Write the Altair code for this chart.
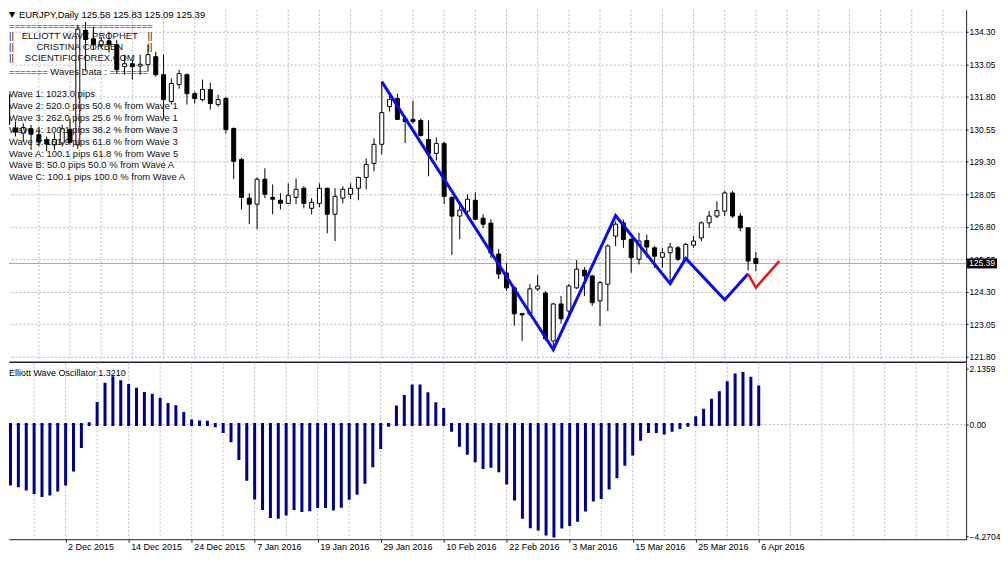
import json
import altair as alt
import pandas as pd

# ---------------- data ----------------
# bar index 0 = 20 Nov 2015 ... 96 = 6 Apr 2016 (daily trading bars)
opens = [131.88, 130.59, 130.40, 130.57, 130.34, 130.15, 129.95, 130.02, 130.55, 129.95,
         134.35, 134.03, 133.78, 133.95, 133.80, 132.96, 133.07, 132.98, 133.03, 133.34,
         132.65, 131.62, 132.27, 132.65, 131.92, 131.69, 132.08, 131.50, 131.73, 130.58,
         129.39, 127.90, 127.67, 128.63, 127.93, 127.82, 127.70, 127.93, 128.28, 127.51,
         127.70, 128.28, 127.28, 127.90, 128.05, 128.28, 128.70, 129.24, 129.97, 131.42,
         131.73, 130.96, 130.93, 130.89, 130.16, 129.62, 130.00, 127.93, 127.21, 127.40,
         127.82, 127.13, 126.94, 125.75, 125.02, 124.45, 123.46, 123.45, 124.41, 124.25,
         122.41, 123.83, 123.56, 124.45, 125.13, 124.91, 123.95, 124.59, 126.44, 126.95,
         126.31, 125.55, 126.27, 125.99, 125.63, 125.80, 125.99, 125.55, 126.09, 126.37,
         126.95, 127.21, 127.40, 128.10, 127.21, 126.76, 125.58]
highs = [132.00, 130.85, 130.78, 130.72, 130.53, 130.27, 130.40, 130.72, 130.95, 134.55,
         134.68, 134.49, 134.10, 134.30, 133.99, 133.42, 133.23, 133.42, 133.80, 133.53,
         133.42, 132.50, 132.84, 132.69, 132.00, 132.46, 132.34, 131.88, 131.80, 130.62,
         129.45, 128.09, 128.70, 129.05, 128.43, 128.09, 128.47, 128.66, 128.36, 127.90,
         128.47, 128.30, 128.28, 128.36, 128.47, 128.72, 129.43, 130.20, 132.38, 132.00,
         131.92, 130.98, 131.65, 130.96, 130.89, 130.23, 130.08, 127.97, 127.59, 128.05,
         128.13, 127.28, 127.09, 125.94, 125.40, 124.52, 123.49, 124.60, 124.94, 124.33,
         123.87, 124.14, 124.60, 125.52, 125.25, 124.95, 124.71, 126.13, 127.01, 127.08,
         126.37, 126.57, 126.50, 126.06, 125.99, 126.18, 126.06, 126.18, 126.44, 127.01,
         127.40, 127.78, 128.17, 128.17, 127.33, 126.76, 125.83]
lows = [130.60, 130.27, 130.08, 129.76, 129.89, 129.70, 129.76, 129.89, 129.95, 129.80,
        132.77, 133.61, 133.65, 133.50, 132.69, 132.65, 132.46, 132.65, 132.77, 132.57,
        130.96, 131.50, 132.11, 131.50, 131.54, 131.62, 131.31, 131.42, 130.39, 128.63,
        127.47, 126.90, 126.71, 127.90, 127.28, 127.47, 127.67, 127.67, 127.51, 127.28,
        127.55, 126.55, 126.25, 127.70, 127.86, 127.82, 128.24, 128.93, 129.58, 131.23,
        130.90, 130.02, 130.77, 130.27, 128.74, 129.35, 127.67, 125.71, 126.32, 127.28,
        127.05, 126.75, 125.60, 124.79, 124.33, 122.99, 122.41, 123.37, 124.33, 122.41,
        122.07, 123.07, 123.30, 124.41, 124.14, 123.76, 122.99, 123.56, 126.06, 125.99,
        125.03, 125.35, 125.61, 125.22, 125.22, 124.65, 125.48, 125.48, 125.99, 126.25,
        126.76, 127.14, 127.21, 127.14, 126.63, 125.12, 125.09]
closes = [130.73, 130.44, 130.62, 130.36, 130.06, 129.98, 130.15, 130.57, 130.05, 134.40,
          134.00, 133.80, 133.95, 133.80, 132.84, 133.07, 132.96, 133.05, 133.42, 132.65,
          131.69, 132.31, 132.69, 131.92, 131.73, 132.08, 131.54, 131.69, 130.54, 129.32,
          127.93, 127.67, 128.63, 128.05, 127.86, 127.70, 128.01, 128.24, 127.70, 127.74,
          128.28, 127.28, 127.97, 128.24, 128.28, 128.70, 129.20, 129.97, 131.19, 131.69,
          130.93, 130.85, 130.85, 130.31, 129.62, 130.00, 127.97, 127.21, 127.44, 127.86,
          127.09, 126.90, 125.79, 124.98, 124.45, 123.45, 123.41, 124.41, 124.52, 122.49,
          123.83, 123.26, 124.52, 125.17, 124.91, 123.88, 124.65, 126.06, 126.90, 126.31,
          125.61, 126.25, 126.02, 125.67, 125.80, 126.02, 125.55, 126.12, 126.25, 126.95,
          127.21, 127.42, 128.10, 127.21, 126.76, 125.48, 125.39]

osc_values = [-2.28, -2.28, -2.34, -2.47, -2.60, -2.72, -2.66, -2.51, -2.28, -1.74,
              -0.84, 0.03, 0.81, 1.54, 1.79, 1.64, 1.50, 1.35, 1.19, 1.12,
              0.97, 0.77, 0.68, 0.42, 0.14, 0.10, 0.09, -0.05, -0.27, -0.62,
              -1.30, -2.09, -2.81, -3.21, -3.52, -3.55, -3.42, -3.21, -3.29, -3.26,
              -3.14, -3.14, -3.23, -3.13, -2.82, -2.63, -2.21, -1.58, -0.88, -0.03,
              0.67, 1.07, 1.48, 1.48, 1.18, 0.80, 0.58, -0.22, -0.79, -1.10,
              -1.39, -1.64, -1.60, -1.77, -2.24, -2.85, -3.55, -3.91, -4.00, -4.19,
              -4.27, -3.92, -3.83, -3.66, -3.27, -2.89, -2.79, -2.43, -2.00, -1.52,
              -1.13, -0.56, -0.27, -0.27, -0.32, -0.22, -0.11, -0.03, 0.26, 0.55,
              0.93, 1.22, 1.60, 1.90, 1.95, 1.77, 1.44]

wave_idx = [48, 70, 78, 85, 87, 92, 95]
wave_price = [132.38, 122.07, 127.23, 124.61, 125.58, 123.99, 124.99]
red_idx = [95, 96, 99]
red_price = [124.99, 124.46, 125.48]

price_levels = [134.30, 133.05, 131.80, 130.55, 129.30, 128.05, 126.80, 125.55, 124.30, 123.05, 121.80]
osc_levels = [2.1359, 0.0, -4.2704]
tick_idx = [8, 16, 24, 32, 40, 48, 56, 64, 72, 80, 88, 96]
tick_text = ["2 Dec 2015", "14 Dec 2015", "24 Dec 2015", "7 Jan 2016", "19 Jan 2016", "29 Jan 2016",
             "10 Feb 2016", "22 Feb 2016", "3 Mar 2016", "15 Mar 2016", "25 Mar 2016", "6 Apr 2016"]
grid_idx = list(range(4, 124, 4))

header_text = "EURJPY,Daily 125.58 125.83 125.09 125.39"
banner_lines = ["ELLIOTT WAVE PROPHET", "CRISTINA CORBEN", "SCIENTIFICFOREX.COM"]
info_lines = ["Wave 1: 1023.0 pips",
              "Wave 2: 520.0 pips 50.8 % from Wave 1",
              "Wave 3: 262.0 pips 25.6 % from Wave 1",
              "Wave 4: 100.1 pips 38.2 % from Wave 3",
              "Wave 5: 161.9 pips 61.8 % from Wave 3",
              "Wave A: 100.1 pips 61.8 % from Wave 5",
              "Wave B: 50.0 pips 50.0 % from Wave A",
              "Wave C: 100.1 pips 100.0 % from Wave A"]
osc_title = "Elliott Wave Oscillator 1.3210"

# ---------------- styling / layout ----------------
FONT = "Liberation Sans"
GRID = "#B9B9C9"
FRAME = "#1E1E2E"
NAVY = "#00008B"
W, H1, H2 = 960, 353, 177
PX_PER_BAR = 7.9
X0 = 0.81

candles = pd.DataFrame({"idx": list(range(len(opens))), "open": opens, "high": highs,
                        "low": lows, "close": closes})
osc = pd.DataFrame({"idx": list(range(len(osc_values))), "v": osc_values})
waves = pd.DataFrame({"idx": wave_idx, "p": wave_price})
reds = pd.DataFrame({"idx": red_idx, "p": red_price})
grid = pd.DataFrame({"g": grid_idx})
one = pd.DataFrame({"a": [0]})

xs = alt.Scale(domain=[X0, X0 + W / PX_PER_BAR], nice=False, zero=False)
ps = alt.Scale(domain=[121.608, 135.144], nice=False, zero=False)
os_ = alt.Scale(domain=[-4.389, 2.366], nice=False, zero=False)

main_xaxis = alt.Axis(orient="bottom", title=None, labels=False, ticks=False, grid=False,
                      domain=True, domainColor=FRAME, domainWidth=1.5)
main_yaxis = alt.Axis(orient="right", title=None, values=price_levels, format=".2f",
                      grid=True, gridColor=GRID, gridDash=[2, 2], tickSize=2, tickColor=FRAME,
                      domain=True, domainColor=FRAME, labelFont=FONT, labelFontSize=8.5,
                      labelColor="#000", labelPadding=1, labelOverlap=False, labelFlush=False)
label_expr = f"{json.dumps(tick_text)}[indexof({json.dumps(tick_idx)}, datum.value)]"
osc_xaxis = alt.Axis(orient="bottom", title=None, values=tick_idx, labelExpr=label_expr,
                     labelAlign="left", labelOffset=2, labelPadding=0, tickSize=3,
                     tickColor=FRAME, domain=True, domainColor=FRAME, grid=False,
                     labelFont=FONT, labelFontSize=9, labelColor="#000",
                     labelOverlap=False, labelFlush=False)
osc_yaxis = alt.Axis(orient="right", title=None, values=osc_levels,
                     labelExpr="datum.value == 0 ? '0.00' : format(datum.value, '.4f')",
                     grid=False, tickSize=2, tickColor=FRAME, domain=True, domainColor=FRAME,
                     labelFont=FONT, labelFontSize=8.5, labelColor="#000", labelPadding=1,
                     labelOverlap=False, labelFlush=False)


def MX(field):
    return alt.X(field, type="quantitative", scale=xs, axis=main_xaxis)


def MY(field):
    return alt.Y(field, type="quantitative", scale=ps, axis=main_yaxis)


def OX(field):
    return alt.X(field, type="quantitative", scale=xs, axis=osc_xaxis)


def txt(s, x, y, size=9.5, align="left", font=FONT, color="#111"):
    return alt.Chart(one).mark_text(align=align, baseline="middle", font=font,
                                    fontSize=size, color=color).encode(
        x=alt.value(x), y=alt.value(y), text=alt.value(s))


# ---------------- main (price) pane ----------------
vgrid = alt.Chart(grid).mark_rule(color=GRID, strokeDash=[2, 2], strokeWidth=1).encode(x=MX("g"))
last_line = alt.Chart(one).mark_rule(color="#A4A4BC", strokeWidth=1).encode(
    y=alt.Y(datum=closes[-1], type="quantitative", scale=ps, axis=main_yaxis))
wick = alt.Chart(candles).mark_rule(color="#000", strokeWidth=1, clip=True).encode(
    x=MX("idx"), y=MY("low"), y2="high")
body = alt.Chart(candles).mark_bar(width=4, stroke="#000", strokeWidth=1, clip=True).encode(
    x=MX("idx"), y=MY("open"), y2="close",
    fill=alt.condition("datum.close < datum.open", alt.value("#000"), alt.value("#fff")))
blue = alt.Chart(waves).mark_line(color="#0A0AF5", strokeWidth=3, clip=True).encode(
    x=MX("idx"), y=MY("p"))
red = alt.Chart(reds).mark_line(color="#F01010", strokeWidth=2.5, clip=True).encode(
    x=MX("idx"), y=MY("p"))

texts = [txt("\u25BC", 0, 5, size=8, font="DejaVu Sans", color="#000"),
         txt(header_text, 10, 5, size=9.5, color="#000"),
         txt("=" * 26, 0, 16)]
banner_y = [26.3, 37.3, 48.5]
for i, (s, yy) in enumerate(zip(banner_lines, banner_y)):
    texts.append(txt("||", 0, yy))
    texts.append(txt(s, 71, yy, align="center"))
    if i < 2:
        texts.append(txt("||", 139, yy))
texts.append(txt("======= Waves Data : =======", 0, 62.7))
for k, s in enumerate(info_lines):
    texts.append(txt(s, 0, 84.7 + 11.9 * k))

BOX_X = W + 16
box = alt.Chart(one).mark_point(shape="M-1,-0.333H1V0.333H-1Z", size=900, filled=True,
                                color="#000", opacity=1).encode(
    x=alt.value(BOX_X), y=alt.Y(datum=closes[-1], type="quantitative", scale=ps, axis=main_yaxis))
box_text = alt.Chart(one).mark_text(color="#fff", font=FONT, fontSize=8.5, align="center",
                                    baseline="middle").encode(
    x=alt.value(BOX_X), y=alt.Y(datum=closes[-1], type="quantitative", scale=ps, axis=main_yaxis),
    text=alt.value(f"{closes[-1]:.2f}"))

main = alt.layer(vgrid, last_line, wick, body, blue, red, *texts, box, box_text).properties(
    width=W, height=H1)

# ---------------- oscillator pane ----------------
vgrid2 = alt.Chart(grid).mark_rule(color=GRID, strokeDash=[2, 2], strokeWidth=1).encode(x=OX("g"))
zero = alt.Chart(one).mark_rule(color=GRID, strokeDash=[2, 2], strokeWidth=1).encode(
    y=alt.Y(datum=0, type="quantitative", scale=os_, axis=osc_yaxis))
bars = alt.Chart(osc).mark_rule(color=NAVY, strokeWidth=3, strokeCap="square", clip=True).encode(
    x=OX("idx"), y=alt.Y("v:Q", scale=os_, axis=osc_yaxis), y2=alt.Y2(datum=0))
osc_lab = txt(osc_title, 0, 10, size=9, color="#000")

oscillator = alt.layer(vgrid2, zero, bars, osc_lab).properties(width=W, height=H2)

chart = alt.vconcat(main, oscillator, spacing=1, bounds="flush").properties(
    padding=0, background="white").configure_view(stroke=None)

chart.save("out.html", embed_options={"renderer": "svg", "actions": False})
